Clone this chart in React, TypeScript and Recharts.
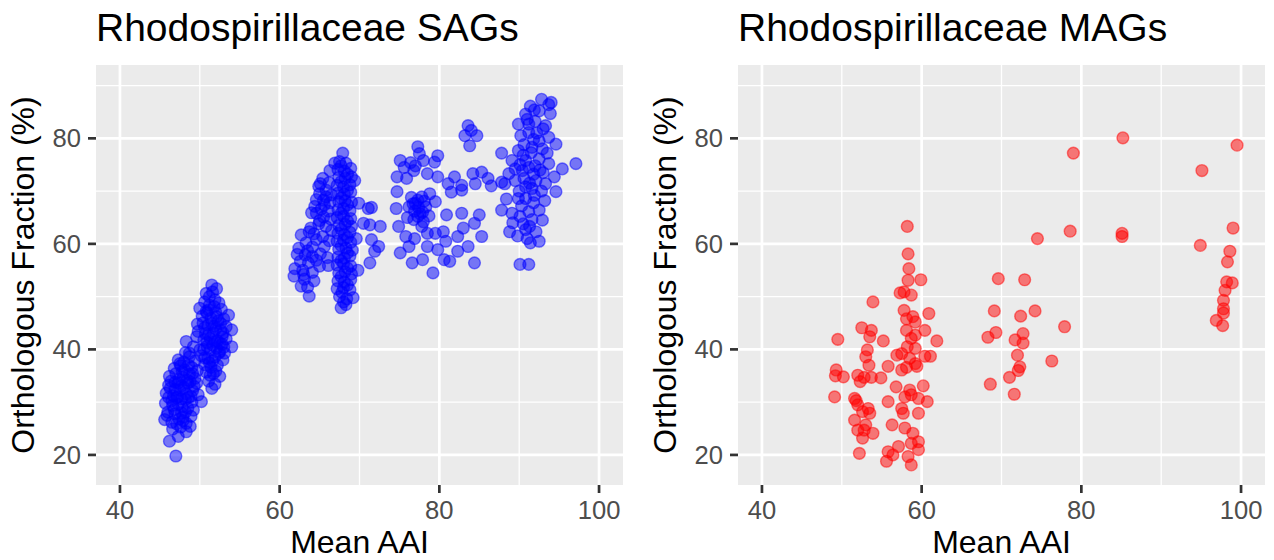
import React from 'react';
import { ScatterChart, Scatter, XAxis, YAxis, CartesianGrid } from 'recharts';

const X_TICKS = [40, 60, 80, 100];
const Y_TICKS = [20, 40, 60, 80];
const X_MINOR = [50, 70, 90];
const Y_MINOR = [30, 50, 70, 90];
const X_DOMAIN: [number, number] = [37, 103];
const Y_DOMAIN: [number, number] = [14.3, 93.9];

const TITLE_SAG = 'Rhodospirillaceae SAGs';
const TITLE_MAG = 'Rhodospirillaceae MAGs';
const X_LABEL = 'Mean AAI';
const Y_LABEL = 'Orthologous Fraction (%)';

// SAG clusters: [Mean AAI, Orthologous Fraction]
const sagLow: [number, number][] = [
  [47.0,19.8],[46.2,22.6],[47.3,23.5],[48.3,24.4],[46.6,24.9],[47.6,25.3],[45.6,26.7],[46.5,26.2],[47.4,26.8],[48.3,26.0],
  [48.9,27.3],[46.0,28.1],[46.8,28.6],[47.7,28.0],[48.5,28.9],[49.2,28.5],[45.7,29.8],[46.5,30.3],[47.3,29.6],[48.2,30.5],
  [49.0,30.0],[50.2,30.1],[45.8,31.7],[46.7,31.2],[47.5,32.3],[48.3,31.6],[49.1,32.2],[49.8,31.4],[46.1,33.2],[46.9,33.8],
  [47.7,33.1],[48.5,33.6],[49.3,33.0],[49.6,33.6],[46.2,34.9],[47.0,35.4],[47.9,34.7],[48.7,35.3],[49.4,34.5],[46.8,36.4],
  [47.6,36.9],[48.1,36.1],[49.0,36.6],[49.7,36.0],[47.3,38.0],[48.0,37.6],[48.7,38.6],[49.4,37.8],[48.2,39.4],[48.7,39.3],
  [48.3,41.5],[45.9,27.5],[46.3,32.6],[48.8,25.4],[47.1,30.8],[47.9,27.2],[48.6,30.9],[47.4,34.3],
  [46.9,27.8],[47.8,29.1],[47.2,31.0],[48.0,32.8],[47.3,33.6],[48.4,34.2],[47.8,35.8],[46.6,29.4],[48.9,31.1],[48.6,37.0],
  [47.1,25.9],[47.9,26.5],[46.4,34.0],[49.1,35.4],[47.5,37.3],[46.9,32.4],[48.2,28.1],[48.8,33.9],[46.1,30.9],[47.7,30.6],
];
const sagHigh: [number, number][] = [
  [51.5,52.2],[50.8,50.6],[51.6,50.9],[52.1,51.5],[51.9,49.4],[50.6,49.0],[51.2,48.4],[52.4,48.8],[50.0,47.8],[51.1,47.5],
  [52.0,47.0],[52.7,47.6],[50.3,46.3],[51.4,45.9],[52.1,46.2],[53.0,45.8],[50.4,45.0],[51.0,44.6],[51.8,44.4],[52.6,44.9],
  [53.3,44.3],[49.8,43.4],[50.7,43.0],[51.7,43.1],[52.9,43.1],[54.0,43.7],[49.6,42.4],[50.5,41.8],[51.3,42.1],[52.2,41.6],
  [52.5,41.2],[53.3,42.0],[49.2,40.5],[50.0,39.9],[50.9,40.6],[51.3,39.9],[52.1,40.2],[53.0,40.4],[54.0,40.5],[50.2,38.8],
  [51.0,38.3],[51.9,38.6],[52.9,38.0],[50.6,37.1],[51.4,36.6],[52.2,37.0],[50.8,35.7],[51.7,35.4],[52.5,34.9],[51.1,34.0],
  [51.5,32.6],[51.9,33.4],[53.6,46.5],[49.7,44.8],[52.4,39.3],[51.6,37.8],[52.8,42.4],[50.9,46.9],
  [51.2,50.0],[51.8,48.1],[50.8,47.2],[52.3,45.4],[51.5,44.9],[50.6,44.1],[52.0,43.9],[51.1,42.8],[52.6,43.6],[50.9,41.3],
  [51.9,41.5],[52.8,41.0],[51.6,40.8],[50.5,40.0],[52.5,39.6],[51.2,37.5],[52.0,35.9],[51.3,35.1],[50.6,38.4],[53.1,39.3],
];
const sagMidLeft: [number, number][] = [
  [65.4,72.4],[66.2,71.6],[64.9,70.9],[65.8,70.2],[66.5,69.3],[65.0,69.5],[64.6,68.4],[65.5,68.3],[66.3,67.8],[64.4,67.1],
  [65.2,66.6],[66.1,66.2],[64.6,65.8],[65.5,65.1],[66.4,64.7],[65.8,63.3],[64.9,63.8],[63.9,63.0],[66.5,62.5],[63.7,62.3],
  [62.7,61.7],[64.6,60.8],[65.4,61.4],[66.2,60.6],[65.6,59.5],[63.3,60.2],[64.1,59.4],[62.4,59.2],[62.2,58.0],[63.2,57.9],
  [64.1,57.6],[65.1,58.1],[66.0,57.4],[62.6,56.7],[63.6,56.4],[65.0,55.8],[66.1,55.9],[61.9,55.3],[62.9,55.0],[64.1,54.6],
  [61.8,53.9],[63.1,53.3],[64.3,53.0],[62.7,52.0],[63.5,51.8],[63.7,50.1],[66.3,73.9],[66.9,75.3],
  [65.1,71.4],[65.6,67.4],[65.0,64.4],[64.3,61.9],[63.5,58.7],[64.6,56.9],[63.0,54.2],[65.8,68.9],[64.0,65.9],
];
const sagMidColumn: [number, number][] = [
  [67.9,77.2],[67.5,75.6],[68.3,75.3],[67.3,74.1],[68.1,73.8],[68.9,74.3],[67.4,72.6],[68.2,72.4],[69.0,72.7],[69.4,72.0],
  [67.2,71.1],[68.0,70.8],[68.8,71.2],[67.3,69.6],[68.1,69.4],[68.9,69.8],[67.4,68.0],[68.2,68.2],[69.0,67.9],[67.3,66.5],
  [68.0,66.7],[68.8,66.3],[67.2,65.0],[68.0,65.2],[68.9,64.8],[67.4,63.5],[68.2,63.7],[69.0,63.3],[67.3,62.0],[68.1,61.8],
  [68.8,62.2],[67.2,60.5],[68.0,60.7],[68.9,60.3],[67.4,59.0],[68.3,59.2],[69.1,58.8],[67.3,57.5],[68.1,57.3],[68.8,57.7],
  [67.2,56.0],[68.0,56.2],[68.9,55.8],[67.4,54.5],[68.2,54.7],[69.0,54.3],[67.3,53.0],[68.1,52.8],[68.9,53.2],[67.2,51.5],
  [68.0,51.7],[68.8,51.3],[69.2,49.8],[67.5,50.0],[68.4,49.6],[67.7,47.9],[68.3,48.5],
  [67.7,74.8],[68.5,73.2],[67.7,71.8],[68.5,70.1],[67.7,68.7],[68.5,67.4],[67.7,65.8],[68.5,64.3],[67.7,62.8],[68.5,61.2],
  [67.7,59.7],[68.5,58.3],[67.7,56.8],[68.5,55.4],[67.7,53.8],[68.5,52.2],[67.8,50.8],[68.0,49.0],
  [71.1,66.7],[71.5,66.9],[70.5,63.9],[71.3,63.6],[72.6,63.3],[71.5,60.8],[72.4,59.5],[71.9,58.6],[71.3,56.4],[69.9,67.7],
  [69.6,61.0],[69.8,55.0],
];
const sagUpperMid: [number, number][] = [
  [75.1,75.8],[77.3,78.4],[77.5,77.1],[79.8,76.7],[79.4,75.5],[74.7,72.7],[74.7,69.9],[74.6,66.7],[74.9,63.3],[75.1,58.3],
  [76.6,56.4],[79.2,54.5],[77.9,57.0],[80.6,57.0],[81.3,56.7],[82.3,61.4],[84.4,56.4],[85.3,61.4],[84.4,63.9],[85.0,65.5],
  [82.8,65.8],[80.9,65.5],[80.5,62.3],[79.5,62.0],[77.8,63.3],[77.0,67.7],[76.2,67.0],[77.3,68.3],[75.9,72.4],[76.8,73.9],
  [78.5,73.3],[79.8,72.7],[81.1,71.4],[81.9,72.7],[82.8,71.1],[84.2,73.3],[85.3,73.6],[86.1,72.4],[87.8,71.7],[87.8,77.2],
  [82.8,70.2],[84.5,71.4],[78.5,59.5],[79.8,58.9],[82.3,58.6],[83.6,59.5],[76.2,59.5],[75.8,61.4],[78.5,62.0],[77.3,65.2],
  [76.5,68.8],[77.8,68.9],[78.3,67.0],[76.9,66.2],[77.6,65.7],[78.7,65.3],[76.0,65.0],[78.8,69.5],[79.5,68.0],[75.6,74.5],
  [76.4,75.4],[77.0,74.8],[78.0,75.8],[83.6,82.4],[83.2,80.5],[84.7,80.5],[83.8,78.6],[84.0,81.5],[80.8,60.5],[83.0,63.0],
  [76.9,61.0],[81.5,69.8],[86.5,71.0],
  [77.4,66.9],[78.1,68.1],[76.7,67.6],[77.9,66.0],[76.8,64.6],[78.0,64.2],
];
const sagTop: [number, number][] = [
  [91.4,86.1],[93.7,86.4],[93.9,84.7],[92.5,85.2],[90.8,84.6],[89.9,82.7],[91.2,82.7],[93.3,82.4],[91.2,81.1],[92.5,79.5],
  [93.7,80.2],[94.6,78.9],[89.9,77.7],[91.6,78.3],[89.1,75.8],[90.8,75.8],[92.5,76.1],[93.7,75.2],[95.4,74.2],[97.1,75.2],
  [94.4,72.7],[93.3,71.4],[94.6,69.9],[92.1,72.0],[90.8,70.8],[89.5,72.0],[88.2,71.4],[87.8,66.4],[89.1,65.8],[91.2,66.1],
  [92.5,66.4],[92.9,64.5],[92.1,62.3],[90.8,62.7],[91.4,60.2],[89.9,68.6],[90.8,68.6],[91.6,70.5],[90.1,56.1],[91.2,56.1],
  [88.7,73.3],[90.4,73.9],[90.2,80.5],[91.8,79.8],[92.9,78.0],[90.5,76.8],[93.5,77.2],[91.2,74.5],[92.0,74.8],[93.0,73.5],
  [89.5,74.2],[90.0,70.0],[91.3,71.5],[92.8,70.0],[90.3,67.2],[91.8,67.8],[93.2,68.2],[89.2,64.0],[90.5,63.8],[91.6,64.6],
  [89.8,61.5],[91.0,61.0],[92.5,60.5],[88.8,62.3],[88.4,68.5],[92.0,83.2],[93.0,81.8],[94.0,86.8],[92.8,87.4],[91.9,85.4],
  [90.6,78.8],[91.5,77.3],[90.1,75.0],[91.8,73.2],[92.6,74.0],[90.6,72.4],[91.9,69.2],[90.1,65.2],[91.3,63.3],[92.2,81.0],
  [91.0,83.6],
];

// MAG points: [Mean AAI, Orthologous Fraction]
const magHigh: [number, number][] = [
  [85.2,80.1],[79.0,77.2],[99.5,78.7],[95.1,73.9],[78.6,62.4],[85.1,62.0],[85.1,61.4],[74.5,61.0],[99.0,63.0],[94.9,59.7],
  [98.6,58.6],[98.3,56.6],[98.2,52.8],[98.9,52.6],[98.0,51.2],[97.8,49.3],[97.8,47.7],[97.8,46.9],[96.9,45.5],[97.7,44.5],
  [69.6,53.4],[72.9,53.2],[69.1,47.3],[74.2,47.3],[72.4,46.3],[69.3,43.2],[68.3,42.3],[72.7,43.0],[71.7,41.8],[72.7,41.2],
  [77.9,44.3],[72.0,38.9],[76.3,37.8],[72.3,36.7],[72.1,36.0],[71.0,34.7],[68.6,33.4],[71.6,31.5],
];
const magLow: [number, number][] = [
  [58.2,63.3],[58.3,58.1],[58.4,55.3],[58.3,53.1],[59.9,53.2],[57.8,50.9],[58.7,50.3],[53.9,49.0],[57.8,47.4],[60.9,46.8],
  [58.9,46.2],[60.4,43.6],[61.9,41.6],[49.5,41.9],[52.5,44.1],[53.7,43.6],[55.2,41.6],[53.5,42.4],[58.7,42.1],[58.2,40.5],
  [59.2,40.2],[57.5,39.2],[61.1,38.7],[60.4,38.7],[53.2,39.9],[53.0,38.6],[53.4,37.0],[55.8,36.8],[59.4,36.8],[58.1,36.6],
  [57.5,36.1],[49.3,36.1],[49.2,35.0],[50.2,34.8],[52.0,35.1],[52.3,33.9],[53.7,34.7],[54.9,34.6],[56.8,32.9],[60.2,33.1],
  [58.5,32.3],[58.7,31.4],[57.9,31.0],[59.6,30.7],[60.7,30.1],[49.1,31.0],[51.6,30.7],[55.8,30.1],[52.0,29.5],[53.5,27.9],
  [52.6,28.2],[57.5,28.8],[57.7,27.9],[59.6,27.9],[51.6,26.6],[53.0,25.7],[56.3,25.7],[57.9,25.1],[52.0,24.7],[53.9,24.1],
  [52.6,23.2],[58.9,24.1],[58.7,22.2],[59.6,22.5],[52.2,20.3],[55.8,20.6],[57.1,21.6],[56.4,20.0],[55.6,18.8],[58.3,19.7],
  [59.6,21.0],[58.7,18.1],[58.1,45.8],[59.2,45.2],[58.1,43.6],[59.2,42.7],[56.9,38.9],[58.5,38.3],[59.2,37.3],[57.3,50.7],
  [52.8,34.7],[51.8,30.3],[53.3,28.8],[52.8,24.7],
];

const toRows = (pts: [number, number][]) => pts.map(([x, y]) => ({ x, y }));
const sagData = toRows([...sagLow, ...sagHigh, ...sagMidLeft, ...sagMidColumn, ...sagUpperMid, ...sagTop]);
const magData = toRows([...magHigh, ...magLow]);

const FONT = '"Liberation Sans", Arial, Helvetica, sans-serif';
const PANEL_BG = '#EBEBEB';

function dot(color: string) {
  return (p: any) => (
    <circle cx={p.cx} cy={p.cy} r={5.9} fill={color} fillOpacity={0.5} stroke={color} strokeOpacity={0.5} strokeWidth={1.4} />
  );
}

function Panel({ left, width, rightMargin, data, color }: { left: number; width: number; rightMargin: number; data: { x: number; y: number }[]; color: string }) {
  return (
    <div style={{ position: 'absolute', left, top: 0, width, height: 560 }}>
      <ScatterChart width={width} height={560} margin={{ top: 65, right: rightMargin, bottom: 0, left: 0 }}>
        <CartesianGrid fill={PANEL_BG} stroke="#FFFFFF" strokeWidth={1.3} horizontalValues={Y_MINOR} verticalValues={X_MINOR} />
        <CartesianGrid stroke="#FFFFFF" strokeWidth={2.7} horizontalValues={Y_TICKS} verticalValues={X_TICKS} />
        <XAxis
          type="number"
          dataKey="x"
          domain={X_DOMAIN}
          ticks={X_TICKS}
          interval={0}
          allowDataOverflow
          height={75}
          tickSize={8}
          tickMargin={8}
          axisLine={false}
          tickLine={{ stroke: '#333333', strokeWidth: 2.7 }}
          tick={{ fill: '#4D4D4D', fontSize: 25.6, fontFamily: FONT }}
        />
        <YAxis
          type="number"
          dataKey="y"
          domain={Y_DOMAIN}
          ticks={Y_TICKS}
          interval={0}
          allowDataOverflow
          width={96}
          tickSize={8}
          tickMargin={7}
          axisLine={false}
          tickLine={{ stroke: '#333333', strokeWidth: 2.7 }}
          tick={{ fill: '#4D4D4D', fontSize: 25.6, fontFamily: FONT }}
        />
        <Scatter data={data} isAnimationActive={false} shape={dot(color)} />
      </ScatterChart>
    </div>
  );
}

export default function App() {
  return (
    <div style={{ position: 'absolute', left: 0, top: 0, width: 1274, height: 560, background: '#FFFFFF', overflow: 'hidden' }}>
      <Panel left={0} width={637} rightMargin={14} data={sagData} color="#0000FF" />
      <Panel left={642} width={632} rightMargin={9} data={magData} color="#FF0000" />
      <svg width={1274} height={560} style={{ position: 'absolute', left: 0, top: 0, pointerEvents: 'none' }}>
        <g fontFamily={FONT} fill="#000000">
          <text x={96} y={41} fontSize={39}>{TITLE_SAG}</text>
          <text x={738} y={41} fontSize={39}>{TITLE_MAG}</text>
          <text x={359.5} y={553} fontSize={32} textAnchor="middle">{X_LABEL}</text>
          <text x={1001.5} y={553} fontSize={32} textAnchor="middle">{X_LABEL}</text>
          <text x={34} y={275} fontSize={32} textAnchor="middle" transform="rotate(-90 34 275)">{Y_LABEL}</text>
          <text x={676} y={275} fontSize={32} textAnchor="middle" transform="rotate(-90 676 275)">{Y_LABEL}</text>
        </g>
      </svg>
    </div>
  );
}
